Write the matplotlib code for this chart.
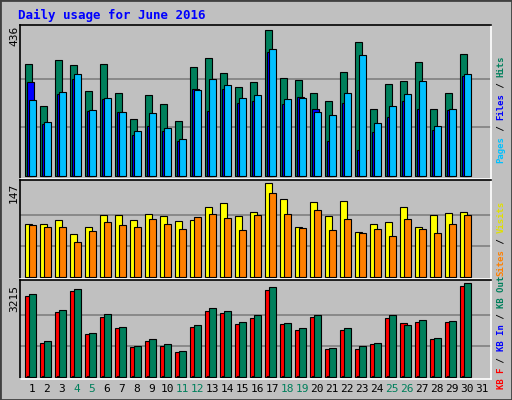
import numpy as np
import matplotlib
matplotlib.use("Agg")
import matplotlib.pyplot as plt
from matplotlib.patches import Rectangle

days = np.arange(1, 32)
weekend = [4, 5, 11, 12, 18, 19, 25, 26]

# (zoom pixel tops converted to values)
hits_y = [130,256,118,133,211,130,217,295,223,250,301,139,112,157,199,184,28,172,178,217,241,154,64,265,190,181,124,265,217,100]
files_y = [238,304,214,160,268,232,274,331,277,322,355,208,175,193,232,223,85,235,232,274,283,217,103,307,256,220,181,316,265,160]
pages_y = [184,310,220,175,271,235,274,343,316,331,361,205,271,205,247,241,94,250,229,265,361,247,388,334,289,241,265,328,268,166]
hits = [(468 - y) / 440 * 436 for y in hits_y]
files = [(468 - y) / 440 * 436 for y in files_y]
pages = [(468 - y) / 440 * 436 for y in pages_y]

visits_y = [148,148,136,178,157,121,121,136,118,124,139,136,97,85,124,112,28,73,157,82,124,79,172,148,142,97,157,121,115,112]
sites_y = [151,157,157,202,169,142,151,157,133,148,163,127,118,130,166,121,58,118,160,106,166,133,175,163,184,133,163,175,148,121]
visits = [(304 - y) / 276 * 147 for y in visits_y]
sites = [(304 - y) / 276 * 147 for y in sites_y]

kout_y = [358,496,406,343,472,418,454,511,490,505,526,448,400,409,439,421,337,442,457,421,517,457,511,502,421,448,433,487,436,327]
kf_y = [364,502,412,349,475,424,457,514,496,511,529,454,409,415,445,427,346,445,463,424,520,463,520,505,427,442,439,490,439,334]
kb_out = [(601 - y) / 274 * 3215 for y in kout_y]
kb_f = [(601 - y) / 274 * 3215 for y in kf_y]
kb_in = [40] * 30

W, H = 512, 400
BG = "#c0c0c0"
fig = plt.figure(figsize=(W / 100, H / 100), dpi=100, facecolor=BG)
mono = "DejaVu Sans Mono"

# bevelled outer border
fig.patches.append(Rectangle((0, 0), 1, 1, transform=fig.transFigure,
                             fill=False, edgecolor="#404040", lw=2))


def panel(top, bottom, ymax, grid):
    ax = fig.add_axes([20 / W, 1 - bottom / H, 471 / W, (bottom - top) / H])
    ax.set_facecolor(BG)
    ax.set_xlim(0.667, 32.07)
    ax.set_ylim(-ymax * 0.02, ymax * 1.035)
    for g in grid:
        ax.axhline(g, color="#808080", lw=1.2, zorder=0)
    ax.set_xticks([])
    ax.set_yticks([])
    for s in ax.spines.values():
        s.set_color("black")
        s.set_linewidth(1.2)
    ax.spines["bottom"].set_color("white")
    ax.spines["right"].set_color("white")
    return ax


def bars(ax, vals, off, width, color):
    ax.bar(days[:len(vals)] + off, vals, width=width, align="edge",
           color=color, edgecolor="black", linewidth=0.8)


w = 7.5 / 15
ax1 = panel(25, 179, 436, [436 / 3, 436 * 2 / 3])
bars(ax1, hits, 0, w, "#00805c")
bars(ax1, pages, 2 / 15, w, "#0000ff")
bars(ax1, files, 4 / 15, w, "#00c0ff")

ax2 = panel(180, 279, 147, [49, 98])
bars(ax2, visits, 0, w, "#ffff00")
bars(ax2, sites, 4 / 15, w, "#ff8000")

ax3 = panel(280, 379, 3215, [3215 / 3, 3215 * 2 / 3])
bars(ax3, kb_f, 0, w, "#ff0000")
bars(ax3, kb_in, 2 / 15, 3 / 15, "#0000ff")
bars(ax3, kb_out, 4 / 15, w, "#00805c")

fig.text(18 / W, 1 - 15 / H, "Daily usage for June 2016", color="#0000ff",
         family=mono, weight="bold", fontsize=9, va="center")

for txt, yc in [("436", 36), ("147", 193), ("3215", 298)]:
    fig.text(14 / W, 1 - yc / H, txt, rotation=90, family=mono,
             fontsize=8, ha="center", va="center")

for d in days:
    fig.text((25 + 15 * (d - 1) + 7) / W, 1 - 389 / H, str(d), family=mono,
             fontsize=8, ha="center", va="center",
             color="#00805c" if d in weekend else "black")

renderer = fig.canvas.get_renderer()


def side_label(parts, ybottom):
    y = ybottom
    for txt, col in parts:
        t = fig.text(501 / W, 1 - y / H, txt, rotation=90, family=mono,
                     fontsize=6.5, color=col, ha="center", va="bottom",
                     weight="bold")
        y -= t.get_window_extent(renderer).height


side_label([("Pages", "#00c0ff"), (" / ", "black"), ("Files", "#0000ff"),
            (" / ", "black"), ("Hits", "#00805c")], 163)
side_label([("Sites", "#ff8000"), (" / ", "black"), ("Visits", "#e0e000")], 276)
side_label([("KB F", "#ff0000"), (" / ", "black"), ("KB In", "#0000ff"),
            (" / ", "black"), ("KB Out", "#00805c")], 389)

fig.savefig("out.png", dpi=100, facecolor=BG)
